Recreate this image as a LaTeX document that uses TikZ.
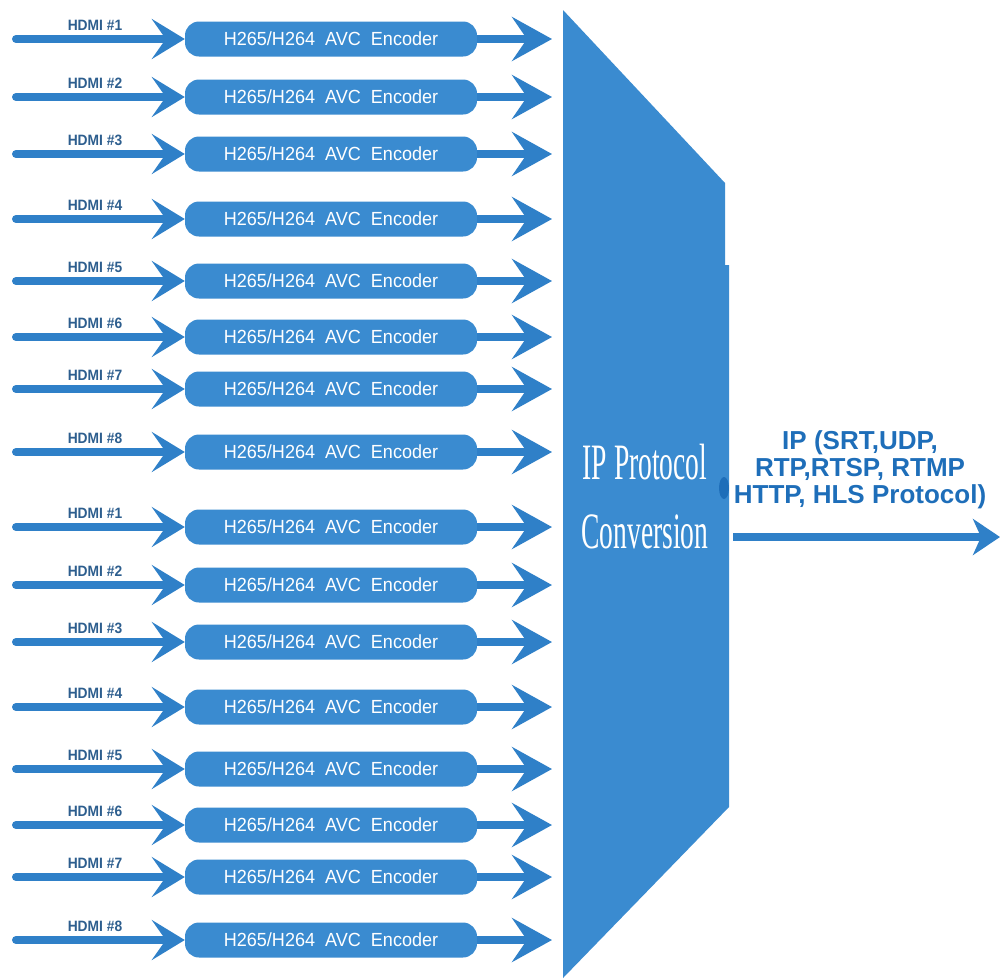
\documentclass[tikz,border=0pt]{standalone}
\usepackage{fontspec}
\setmainfont{Liberation Sans}
\newfontfamily\encfont[FakeStretch=0.95]{Liberation Sans}
\newfontfamily\hdmifont[FakeStretch=0.92]{Liberation Sans}
\newfontfamily\convfont[FakeStretch=0.54]{Liberation Serif}
\usetikzlibrary{arrows.meta}
\definecolor{boxblue}{HTML}{3A8BD0}
\definecolor{arrowblue}{HTML}{2F80C8}
\definecolor{labelblue}{HTML}{2D5E8E}
\definecolor{ipblue}{HTML}{1E6EB9}

\begin{document}
\begin{tikzpicture}[x=1pt,y=-1pt,
      encoder/.style={fill=boxblue, rounded corners=14pt, minimum width=292pt,
        minimum height=35pt, inner sep=0pt, text=white,
        font=\encfont\fontsize{19}{20}\selectfont},
      flow/.style={arrowblue, line width=8pt,
        -{Stealth[length=33pt,width=40pt,inset=14pt]}},
      flowout/.style={flow, -{Stealth[length=40pt,width=44pt,inset=15pt]}},
      hdmi/.style={text=labelblue, inner sep=0pt,
        font=\hdmifont\bfseries\fontsize{15}{16}\selectfont},
      conv/.style={text=white, align=center, inner sep=0pt,
        font=\convfont\fontsize{51}{69}\selectfont},
      iplabel/.style={text=ipblue, align=center, inner sep=0pt,
        font=\bfseries\fontsize{26}{27}\selectfont}]
      \useasboundingbox (0,0) rectangle (1001,978);
      % conversion block
      \fill[boxblue] (563,10) -- (725,183) -- (725,265) -- (729,265)
        -- (729,807) -- (563,978) -- cycle;
      \fill[ipblue] (724,488) ellipse [x radius=5pt, y radius=11pt];
      \node[conv] (conv) at (645,497) {IP Protocol\\Conversion};
      \foreach \y [count=\i] in {39,97,154,219,281,337,389,452,
                                 527,585,642,707,769,825,877,940} {
        \pgfmathtruncatemacro\n{mod(\i-1,8)+1}
        \node[encoder] (enc\i) at (331,\y) {H265/H264\ \ AVC\ \ Encoder};
        \node[hdmi] (hdmi\i) at (95,\y-14) {HDMI \#\n};
        \coordinate (in\i) at (16,\y);
        \coordinate (mux\i) at (552,\y);
        \draw[flow, line cap=round] (in\i) -- (enc\i.west);
        \draw[flowout] (enc\i.east) -- (mux\i);
      }
      % output
      \coordinate (conv-out) at (733,537);
      \coordinate (net) at (1000,537);
      \draw[flow, -{Stealth[length=27pt,width=36pt,inset=8pt]}] (conv-out) -- (net);
      \node[iplabel] (ip) at (860,470) {IP (SRT,UDP,\\RTP,RTSP, RTMP\\HTTP, HLS Protocol)};
    \end{tikzpicture}
\end{document}
